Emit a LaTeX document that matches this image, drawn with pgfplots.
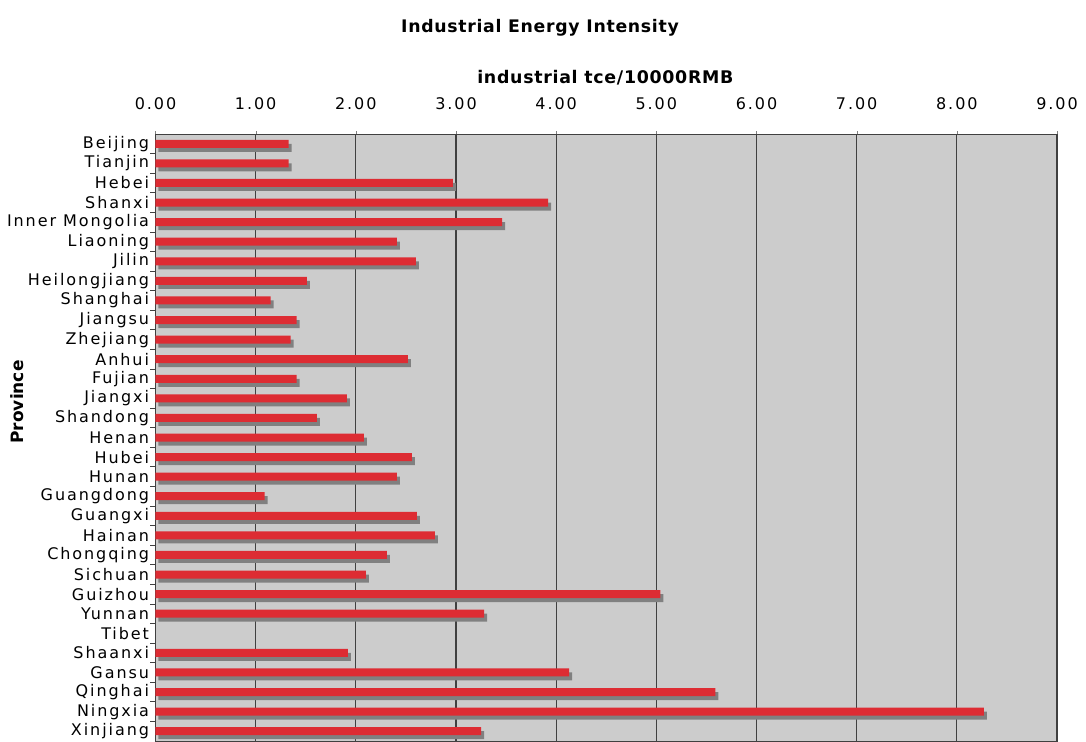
\documentclass[border=0pt]{standalone}
\usepackage{fontspec}
\setmainfont{DejaVu Sans}
\newfontfamily\spaced[LetterSpace=12]{DejaVu Sans}
\newfontfamily\spacedbold[LetterSpace=4]{DejaVu Sans Bold}
\usepackage{pgfplots}
\usepackage{pgfplotstable}
\pgfplotsset{compat=1.18}

\definecolor{barred}{RGB}{221,44,51}
\definecolor{barshadow}{RGB}{128,128,128}
\definecolor{plotbg}{RGB}{204,204,204}

% idx = row from the top, Tibet (25) has no value
\pgfplotstableread{
idx value
0 1.33
1 1.33
2 2.97
3 3.92
4 3.46
5 2.41
6 2.60
7 1.51
8 1.15
9 1.41
10 1.35
11 2.52
12 1.41
13 1.91
14 1.61
15 2.08
16 2.56
17 2.41
18 1.09
19 2.61
20 2.79
21 2.31
22 2.10
23 5.04
24 3.28
26 1.92
27 4.13
28 5.59
29 8.27
30 3.25
}\intensity

\begin{document}
\begin{tikzpicture}
\useasboundingbox (-155.5pt,0pt) rectangle (930.5pt,741pt);
\begin{axis}[
    at={(0pt,0pt)}, anchor=south west,
    scale only axis, width=901.5pt, height=607pt,
    xmin=0, xmax=9, ymin=-0.5, ymax=30.5,
    y dir=reverse,
    xbar, bar width=8pt,
    axis background/.style={fill=plotbg},
    axis line style={draw=black!75, line width=1pt},
    xtick={0,1,...,9},
    xtick pos=upper, xticklabel pos=upper,
    tick align=outside,
    major tick length=3pt,
    /pgf/number format/assume math mode=true,
    xticklabel={\pgfmathprintnumber[fixed,fixed zerofill,precision=2]{\tick}},
    xticklabel style={font=\spaced\fontsize{16}{18}\selectfont, yshift=18pt},
    xmajorgrids,
    major grid style={draw=black!75, line width=1.2pt},
    ytick={0,1,...,30},
    ytick pos=left,
    yticklabels={Beijing,Tianjin,Hebei,Shanxi,Inner Mongolia,Liaoning,Jilin,
      Heilongjiang,Shanghai,Jiangsu,Zhejiang,Anhui,Fujian,Jiangxi,Shandong,
      Henan,Hubei,Hunan,Guangdong,Guangxi,Hainan,Chongqing,Sichuan,Guizhou,
      Yunnan,Tibet,Shaanxi,Gansu,Qinghai,Ningxia,Xinjiang},
    yticklabel style={font=\spaced\fontsize{16}{18}\selectfont, xshift=0pt},
    y tick style={draw=none},
    minor y tick num=1,
    minor tick length=5pt,
    minor y tick style={draw=black!75, line width=0.8pt},
    title={\spacedbold\fontsize{17.3}{19}\selectfont Industrial Energy Intensity},
    title style={at={(axis description cs:0.4265,1.1645)}, anchor=center},
    xlabel={\spacedbold\fontsize{17.4}{19}\selectfont industrial tce/10000RMB},
    xlabel style={at={(axis description cs:0.499,1.092)}, anchor=center},
    ylabel={\bfseries\fontsize{17}{19}\selectfont Province},
    ylabel style={at={(axis description cs:-0.1536,0.5585)}, anchor=center, rotate=0},
]
\addplot[fill=barshadow, draw=none, bar shift=0pt, xshift=3pt, yshift=-4pt]
    table[x=value, y=idx] {\intensity};
\addplot[fill=barred, draw=none, bar shift=0pt]
    table[x=value, y=idx] {\intensity};
\end{axis}
\end{tikzpicture}
\end{document}
